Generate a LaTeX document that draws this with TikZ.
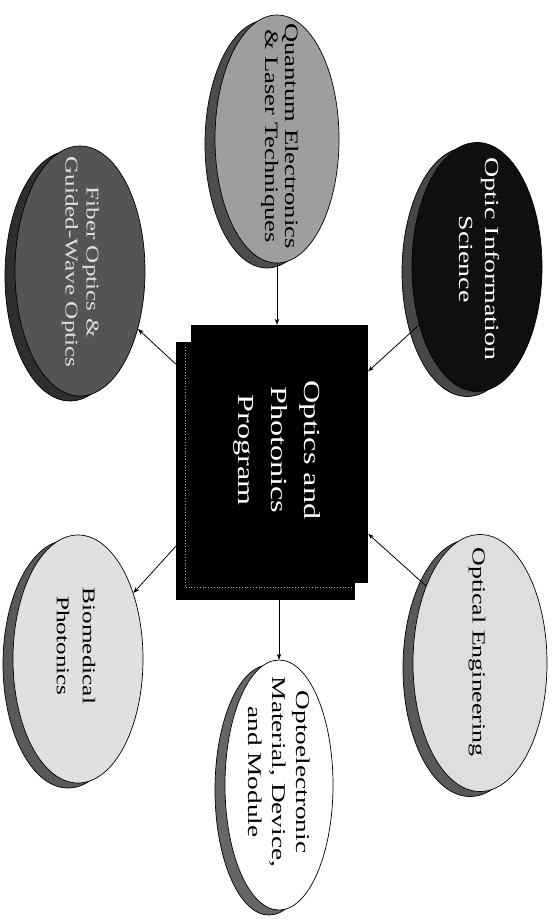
\documentclass[tikz,border=0pt]{standalone}
\usepackage{fontspec}
\setmainfont{Liberation Serif}
\newfontfamily\wideserif[FakeStretch=1.4]{Liberation Serif}
\usetikzlibrary{shapes.geometric,shadows,arrows.meta}
\definecolor{qfill}{gray}{0.62}
\definecolor{qshad}{gray}{0.30}
\definecolor{oifill}{gray}{0.06}
\definecolor{oishad}{gray}{0.28}
\definecolor{fofill}{gray}{0.33}
\definecolor{foshad}{gray}{0.18}
\definecolor{fotext}{gray}{0.88}
\definecolor{oefill}{gray}{0.87}
\definecolor{oeshad}{gray}{0.35}
\definecolor{opshad}{gray}{0.40}
\definecolor{bpfill}{gray}{0.88}
\definecolor{bpshad}{gray}{0.35}
\begin{document}
\begin{tikzpicture}[x=1pt,y=-1pt,
  disc/.style 2 args={ellipse, draw=black, line width=0.7pt, fill=#1, inner sep=0pt,
    general shadow={fill=#2, draw=black, line width=0.7pt, shadow xshift=-10pt, shadow yshift=-5pt}},
  lbl/.style={rotate=-90, align=center, inner sep=0pt},
  arr/.style={-{Stealth[length=6pt,width=4.5pt]}, line width=0.8pt},
  blackbox/.style={fill=black, inner sep=0pt}]
\useasboundingbox (0,0) rectangle (557,921);

% central box with offset shadow
\node[blackbox, minimum width=179pt, minimum height=258pt] (boxsh) at (265.5,471) {};
\draw[dotted, line width=0.8pt, gray!60] (185,347) |- (353,587);
\node[blackbox, minimum width=177pt, minimum height=258pt] (box) at (279.5,454) {};
\node[lbl, text=white, font=\wideserif\fontsize{23}{33}\selectfont] (boxtxt) at (277,450) {Optics and\\Photonics\\Program};

% discs
\node[disc={qfill}{qshad}, minimum width=124pt, minimum height=248pt] (quant) at (277,139) {};
\node[lbl, font=\wideserif\fontsize{19}{19.5}\selectfont] (quanttxt) at (280,136) {Quantum Electronics\\\& Laser Techniques};

\node[disc={oifill}{oishad}, minimum width=130pt, minimum height=249pt] (oinfo) at (477,267) {};
\node[lbl, text=white, font=\wideserif\fontsize{20}{26}\selectfont] (oinfotxt) at (479,259) {Optic Information\\Science};

\node[disc={fofill}{foshad}, minimum width=130pt, minimum height=250pt] (fiber) at (80,271) {};
\node[lbl, text=fotext, font=\wideserif\fontsize{18}{21}\selectfont] (fibertxt) at (80.5,262) {Fiber Optics \&\\Guided-Wave Optics};

\node[disc={oefill}{oeshad}, minimum width=134pt, minimum height=257pt] (oeng) at (480,663) {};
\node[lbl, font=\wideserif\fontsize{18.5}{22}\selectfont] (oengtxt) at (477,652) {Optical Engineering};

\node[disc={white}{opshad}, minimum width=108pt, minimum height=250pt] (opto) at (279,785) {};
\node[lbl, font=\wideserif\fontsize{19.5}{24}\selectfont] (optotxt) at (279,772) {Optoelectronic\\Material, Device,\\and Module};

\node[disc={bpfill}{bpshad}, minimum width=130pt, minimum height=248pt] (bio) at (78,659) {};
\node[lbl, font=\wideserif\fontsize{18}{26}\selectfont] (biotxt) at (76,646) {Biomedical\\Photonics};

% connectors
\draw[arr] (quant.south) -- (quant.south |- box.north);
\draw[arr] (oinfo.225) -- (box.43);
\draw[arr] (boxsh.130) -- (fiber.-45);
\draw[arr] (oeng.125) -- (box.-42);
\draw[arr] (opto.north |- boxsh.south) -- (opto.north);
\draw[arr] (boxsh.220) -- (bio.50);
\end{tikzpicture}
\end{document}
